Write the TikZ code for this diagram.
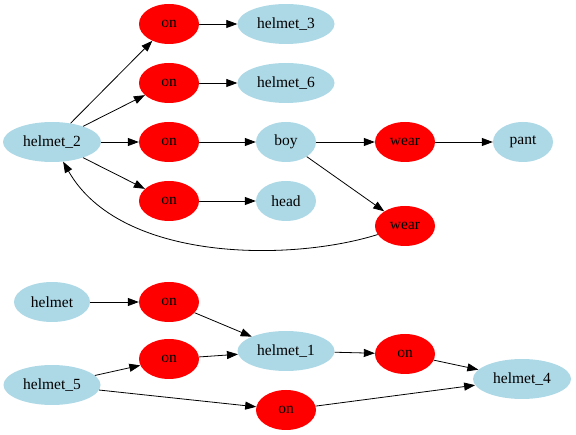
\documentclass[tikz,border=0pt]{standalone}
\usepackage{fontspec}
\setmainfont{Liberation Serif}
\usetikzlibrary{arrows.meta,shapes.geometric}

\tikzset{
  rel/.style={ellipse, fill=red, minimum width=60pt, minimum height=40pt, inner sep=0pt},
  obj/.style={ellipse, fill=lightblue, minimum height=40pt, inner sep=0pt},
  edge/.style={line width=0.8pt, -{Triangle[length=11pt,width=8pt]}}
}
\definecolor{lightblue}{HTML}{ADD8E6}

\begin{document}
\begin{tikzpicture}[x=1pt,y=-1pt,font=\fontsize{15.5}{18}\selectfont]
       \useasboundingbox (0,0) rectangle (576,435);

       %gornji graf
       \node[obj, minimum width=98pt] (helmet2) at (52,142) {helmet\_2};
       \node[rel] (on1) at (169,24) {on};
       \node[rel] (on2) at (169,83) {on};
       \node[rel] (on3) at (169,142) {on};
       \node[rel] (on4) at (169,201) {on};
       \node[obj, minimum width=97pt] (helmet3) at (286,24) {helmet\_3};
       \node[obj, minimum width=97pt] (helmet6) at (286,83) {helmet\_6};
       \node[obj, minimum width=60pt] (boy) at (286,142) {boy};
       \node[obj, minimum width=60pt] (head) at (286,201) {head};
       \node[rel] (wear1) at (405,142) {wear};
       \node[rel] (wear2) at (405,226) {wear};
       \node[obj, minimum width=60pt] (pant) at (523,142) {pant};

       %donji graf
       \node[obj, minimum width=76pt] (helmet) at (52,302) {helmet};
       \node[obj, minimum width=97pt] (helmet5) at (52,385) {helmet\_5};
       \node[rel] (on5) at (169,302) {on};
       \node[rel] (on7) at (169,359) {on};
       \node[obj, minimum width=97pt] (helmet1) at (286,351) {helmet\_1};
       \node[rel] (on8) at (286,410) {on};
       \node[rel] (on6) at (405,354) {on};
       \node[obj, minimum width=98pt] (helmet4) at (522,379) {helmet\_4};

       %strelice
       \foreach \a/\b in {helmet2/on1, helmet2/on2, helmet2/on3, helmet2/on4,
                          on1/helmet3, on2/helmet6, on3/boy, on4/head,
                          boy/wear1, boy/wear2, wear1/pant,
                          helmet/on5, on5/helmet1, helmet5/on7, on7/helmet1,
                          helmet5/on8, helmet1/on6, on6/helmet4, on8/helmet4}
         \draw[edge] (\a) -- (\b);
       \draw[edge] (wear2) .. controls (290,262) and (120,262) .. (helmet2);

\end{tikzpicture}
\end{document}
